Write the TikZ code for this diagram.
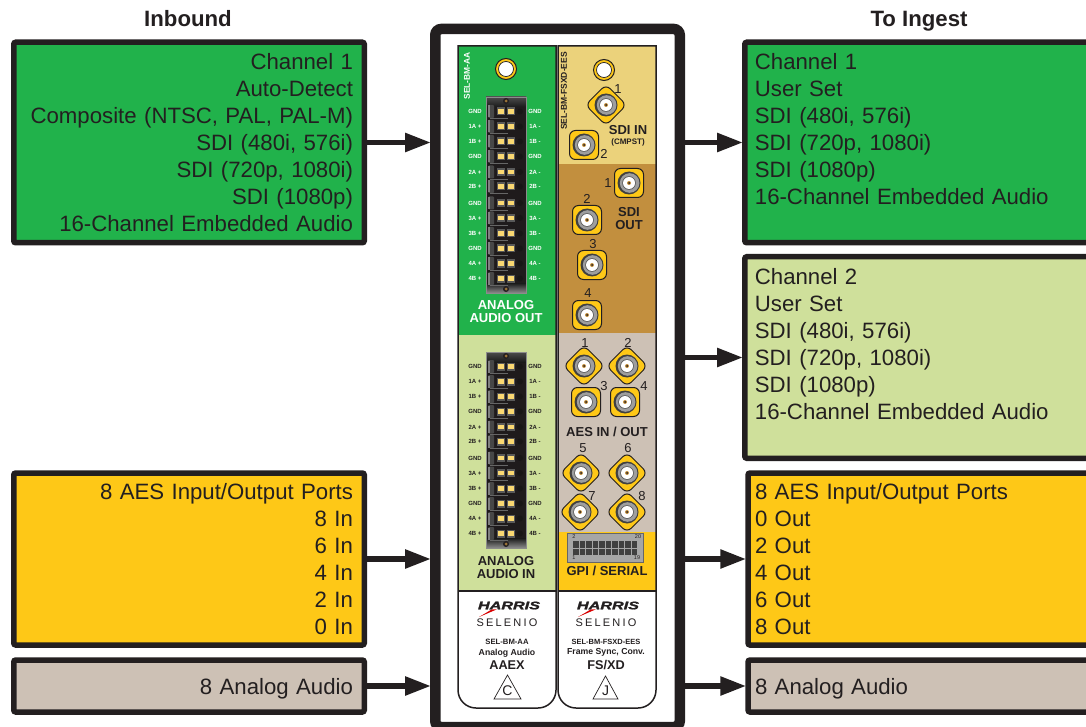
\documentclass[tikz,border=0pt]{standalone}
\usepackage{fontspec}
\setmainfont{Liberation Sans}
\usetikzlibrary{arrows.meta,calc}
\definecolor{ink}{HTML}{231F20}
\definecolor{cgreen}{HTML}{21B24B}
\definecolor{clight}{HTML}{CFE09B}
\definecolor{corange}{HTML}{FEC817}
\definecolor{cgray}{HTML}{CDC1B5}
\definecolor{cbrown}{HTML}{C28F3E}
\definecolor{cpale}{HTML}{EBD27B}
\definecolor{cled}{HTML}{FAD872}
\newcommand\fsz[1]{\fontsize{#1}{#1}\selectfont}
\tikzset{
  x=1pt,y=-1pt,
  infobox/.style={draw=ink,line width=5.5pt,rounded corners=2pt,inner ysep=0pt,font=\fontsize{22.2}{27}\selectfont,text=ink},
  oneline/.style={text height=22.5pt,text depth=5pt},
  flow/.style={draw=ink,line width=5.5pt,-{Triangle[length=26pt,width=18pt]},shorten >=-1pt},
  heading/.style={font=\fsz{22.2}\bfseries,text=ink,anchor=base,inner sep=0pt},
  pin/.style={font=\fsz{6}\bfseries,inner sep=0pt},
  sect/.style={font=\fontsize{13}{13}\bfseries\selectfont,text=ink,inner sep=0pt,align=center},
  num/.style={font=\fsz{13},text=ink,inner sep=0pt},
  small/.style={text=ink,inner sep=0pt},
  module/.style={draw=ink,line width=1.5pt},
  bncd/.pic={
    \fill[corange,draw=ink,line width=1pt,rounded corners=6pt,rotate=45] (-14.5,-14.5) rectangle (14.5,14.5);
    \pic {bnccore};
  },
  bncs/.pic={
    \fill[corange,draw=ink,line width=1pt,rounded corners=6pt] (-14.5,-14.5) rectangle (14.5,14.5);
    \pic {bnccore};
  },
  bnccore/.pic={
    \fill[black!75] (0,0) circle (11.5);
    \fill[black!38] (0.6,0) circle (9.8);
    \fill[black!65] (0,0) circle (6.8);
    \fill[white] (0,0) circle (6);
    \fill[cbrown] (0,0) circle (2);
    \fill[ink] (0,0) circle (1);
  },
  screw/.pic={
    \fill[corange,draw=ink,line width=1pt] (0,0) circle (10.5);
    \fill[white,draw=ink,line width=.7pt] (0,0) circle (7.5);
  },
  pinscrew/.pic={
    \fill[ink] (0,0) circle (3);
    \fill[cbrown] (0,0) circle (1.5);
    \fill[ink] (0,0) circle (.7);
  },
}
% #1 name prefix, #2 top y, #3 text colour
\newcommand\terminalblock[3]{%
  \begin{scope}[shift={(0,#2)}]
    \fill[black!12!ink] (486,0) rectangle (526,196);
    \shade[top color=black!70,bottom color=black!90] (486,0) rectangle (526,10);
    \shade[top color=black!90,bottom color=black!45] (486,186) rectangle (526,196);
    \draw[black!45,line width=.8pt] (486,0) rectangle (526,196);
    \pic at (506,4) {pinscrew};
    \pic at (506,192) {pinscrew};
    \foreach \yy/\ll/\rr [count=\i] in {14.5/GND/GND,29.5/1A +/1A -,44.5/1B +/1B -,59.5/GND/GND,75/2A +/2A -,89.5/2B +/2B -,106/GND/GND,121/3A +/3A -,136.5/3B +/3B -,151.5/GND/GND,166.5/4A +/4A -,181.5/4B +/4B -}{
      \fill[black!72,rounded corners=1pt] (488,\yy-6.5) rectangle (494,\yy+6.5);
      \fill[black!50] (488,\yy-6) rectangle (490,\yy+6);
      \draw[black!60,line width=.7pt] (490,\yy+7) -- (508,\yy+7);
      \fill[black!65] (497,\yy-4) rectangle (505,\yy+4);
      \fill[black!65] (507,\yy-4) rectangle (515,\yy+4);
      \fill[cled] (498,\yy-2.4) rectangle (504,\yy+2.4);
      \fill[cled] (508,\yy-2.4) rectangle (514,\yy+2.4);
      \fill[black!30!ink] (520,\yy) circle (3);
      \node[pin,text=#3] (#1l\i) at (475,\yy) {\ll};
      \node[pin,text=#3] (#1r\i) at (535,\yy) {\rr};
    }
  \end{scope}%
}
\newcommand\harrislogo[2]{%
  \fill[red!85!black] (#2-28,617) -- (#2-15,609.3) -- (#2-10,609.3) -- cycle;
  \node[small,font=\fsz{11}\bfseries\itshape] (#1h) at (#2+2,605.5) {\scalebox{1.47}[1]{\addfontfeature{FakeBold=1.5}HARRIS}};
  \node[small,font=\fsz{11}] (#1s) at (#2,623) {\addfontfeature{LetterSpace=20}SELENIO};
}
\begin{document}
\begin{tikzpicture}
\useasboundingbox (0,0) rectangle (1086,727);
\clip (0,0) rectangle (1086,727);

% headings
\node[heading] (h1) at (188,27) {Inbound};
\node[heading] (h2) at (919,27) {To Ingest};

% left boxes
\node[infobox,fill=cgreen,minimum width=350.5pt,minimum height=200.5pt,text width=328pt,inner xsep=11pt,align=right] (ing) at (189,142.5)
 {Channel 1\\Auto-Detect\\Composite (NTSC, PAL, PAL-M)\\SDI (480i, 576i)\\SDI (720p, 1080i)\\SDI (1080p)\\16-Channel Embedded Audio};
\node[infobox,fill=corange,minimum width=350.5pt,minimum height=172pt,text width=328pt,inner xsep=11pt,align=right] (ino) at (189,559)
 {8 AES Input/Output Ports\\8 In\\6 In\\4 In\\2 In\\0 In};
\node[infobox,oneline,fill=cgray,minimum width=350.5pt,minimum height=52pt,text width=328pt,inner xsep=11pt,align=right] (ina) at (189,686)
 {8 Analog Audio};

% right boxes
\node[infobox,fill=cgreen,minimum width=347.25pt,minimum height=200.5pt,text width=327pt,inner xsep=10pt,align=left] (outg) at (918.4,142.5)
 {Channel 1\\User Set\\SDI (480i, 576i)\\SDI (720p, 1080i)\\SDI (1080p)\\16-Channel Embedded Audio\\~};
\node[infobox,fill=clight,minimum width=347.25pt,minimum height=201.5pt,text width=327pt,inner xsep=10pt,align=left] (outl) at (918.4,357.5)
 {Channel 2\\User Set\\SDI (480i, 576i)\\SDI (720p, 1080i)\\SDI (1080p)\\16-Channel Embedded Audio\\~};
\node[infobox,fill=corange,minimum width=344pt,minimum height=172pt,text width=330pt,inner xsep=7pt,align=left] (outo) at (920,559)
 {8 AES Input/Output Ports\\0 Out\\2 Out\\4 Out\\6 Out\\8 Out};
\node[infobox,oneline,fill=cgray,minimum width=344pt,minimum height=52pt,text width=330pt,inner xsep=7pt,align=left] (outa) at (920,686)
 {8 Analog Audio};

% panel frame
\node[draw=ink,fill=white,line width=10.5pt,rounded corners=6pt,minimum width=244.5pt,minimum height=698pt,inner sep=0pt] (panel) at (557.5,378) {};

% left module
\fill[white] (458,591) -- (458,690) arc[start angle=180,end angle=90,radius=18] -- (538,708) arc[start angle=90,end angle=0,radius=18] -- (556,591) -- cycle;
\fill[cgreen] (458,46) rectangle (556,335);
\fill[clight] (458,335) rectangle (556,591);
\draw[module] (458,46) -- (458,690) arc[start angle=180,end angle=90,radius=18] -- (538,708) arc[start angle=90,end angle=0,radius=18] -- (556,46) -- cycle;
\draw[module] (458,591) -- (556,591);

% right module
\fill[white] (558,591) -- (558,690) arc[start angle=180,end angle=90,radius=18] -- (638,708) arc[start angle=90,end angle=0,radius=18] -- (656,591) -- cycle;
\fill[cpale] (558,46) rectangle (656,164);
\fill[cbrown] (558,164) rectangle (656,333);
\fill[cgray] (558,333) rectangle (656,532);
\fill[corange] (558,532) rectangle (656,591);
\draw[module] (558,46) -- (558,690) arc[start angle=180,end angle=90,radius=18] -- (638,708) arc[start angle=90,end angle=0,radius=18] -- (656,46) -- cycle;
\draw[module] (558,591) -- (656,591);

% screws
\pic at (506,69) {screw};
\pic at (604,70) {screw};

% vertical labels
\node[inner sep=0pt,rotate=90,font=\fsz{8.4}\bfseries,text=white] (v1) at (467,76) {SEL-BM-AA};
\node[inner sep=0pt,rotate=90,font=\fsz{8.5}\bfseries,text=ink] (v2) at (564,91) {SEL-BM-FSXD-EES};

% terminal blocks
\terminalblock{a}{97}{white}
\terminalblock{b}{352}{ink}
\node[sect,text=white] (t1) at (506,312) {ANALOG\\AUDIO OUT};
\node[sect] (t2) at (506,568) {ANALOG\\AUDIO IN};

% connectors
\pic at (606,105) {bncd};
\pic at (584,145) {bncs};
\pic at (629,183) {bncs};
\pic at (587,220) {bncs};
\pic at (592,265) {bncs};
\pic at (587,315) {bncs};
\pic at (584,366) {bncd};
\pic at (627,366) {bncd};
\pic at (586,402) {bncs};
\pic at (625,402) {bncs};
\pic at (581,473) {bncd};
\pic at (627,473) {bncd};
\pic at (580,512) {bncd};
\pic at (627,512) {bncd};

% connector numbers
\node[num] (n1) at (618,89) {1};
\node[num] (n2) at (604,154) {2};
\node[num] (n3) at (608,183) {1};
\node[num] (n4) at (587,199) {2};
\node[num] (n5) at (593,244) {3};
\node[num] (n6) at (588,293) {4};
\node[num] (n7) at (585,343) {1};
\node[num] (n8) at (628,343) {2};
\node[num] (n9) at (604,386) {3};
\node[num] (n10) at (644,386) {4};
\node[num] (n11) at (583,448) {5};
\node[num] (n12) at (628,448) {6};
\node[num] (n13) at (592,496) {7};
\node[num] (n14) at (642,496) {8};

% section labels
\node[sect] (s1) at (628,130) {SDI IN};
\node[small,font=\fsz{8}\bfseries] (s2) at (628,142) {(CMPST)};
\node[sect] (s3) at (629,219) {SDI\\OUT};
\node[sect] (s4) at (607,432) {AES IN / OUT};
\node[sect] (s5) at (607,571) {GPI / SERIAL};

% GPI connector
\fill[black!35,draw=black!60,line width=.8pt] (567,533) rectangle (643,562);
\foreach \cx in {0,...,9}{
  \fill[black!75] (573+\cx*6.5,541) rectangle (578.6+\cx*6.5,547.5);
  \fill[black!75] (573+\cx*6.5,548.5) rectangle (578.6+\cx*6.5,555);
}
\node[small,font=\fsz{5.5}] (g1) at (574,537) {2};
\node[small,font=\fsz{5.5}] (g2) at (638,537) {20};
\node[small,font=\fsz{5.5}] (g3) at (574,558) {1};
\node[small,font=\fsz{5.5}] (g4) at (637,558) {19};

% labels on the white plates
\harrislogo{la}{507}
\harrislogo{ra}{606}
\node[small,font=\fsz{7.7}\bfseries] (c1) at (507,642) {SEL-BM-AA};
\node[small,font=\fsz{8.7}\bfseries] (c2) at (507,653) {Analog Audio};
\node[small,font=\fsz{12.7}\bfseries] (c3) at (507,665) {AAEX};
\draw[ink,line width=.7pt] (507.5,675) -- (521,699) -- (494,699) -- cycle;
\node[small,font=\fsz{14}] (c4) at (507.5,691) {C};
\node[small,font=\fsz{7.5}\bfseries] (d1) at (606,642) {SEL-BM-FSXD-EES};
\node[small,font=\fsz{8.7}\bfseries] (d2) at (606,652) {Frame Sync, Conv.};
\node[small,font=\fsz{12.7}\bfseries] (d3) at (606,665) {FS/XD};
\draw[ink,line width=.7pt] (605.5,676) -- (618,699) -- (593,699) -- cycle;
\node[small,font=\fsz{14}] (d4) at (605.5,691) {J};

% flow arrows
\draw[flow] (ing.east) -- (ing.east -| panel.west);
\draw[flow] (ino.east) -- (ino.east -| panel.west);
\draw[flow] (ina.east) -- (ina.east -| panel.west);
\draw[flow] (panel.east |- outg.west) -- (outg.west);
\draw[flow] (panel.east |- outl.west) -- (outl.west);
\draw[flow] (panel.east |- outo.west) -- (outo.west);
\draw[flow] (panel.east |- outa.west) -- (outa.west);
\end{tikzpicture}
\end{document}
